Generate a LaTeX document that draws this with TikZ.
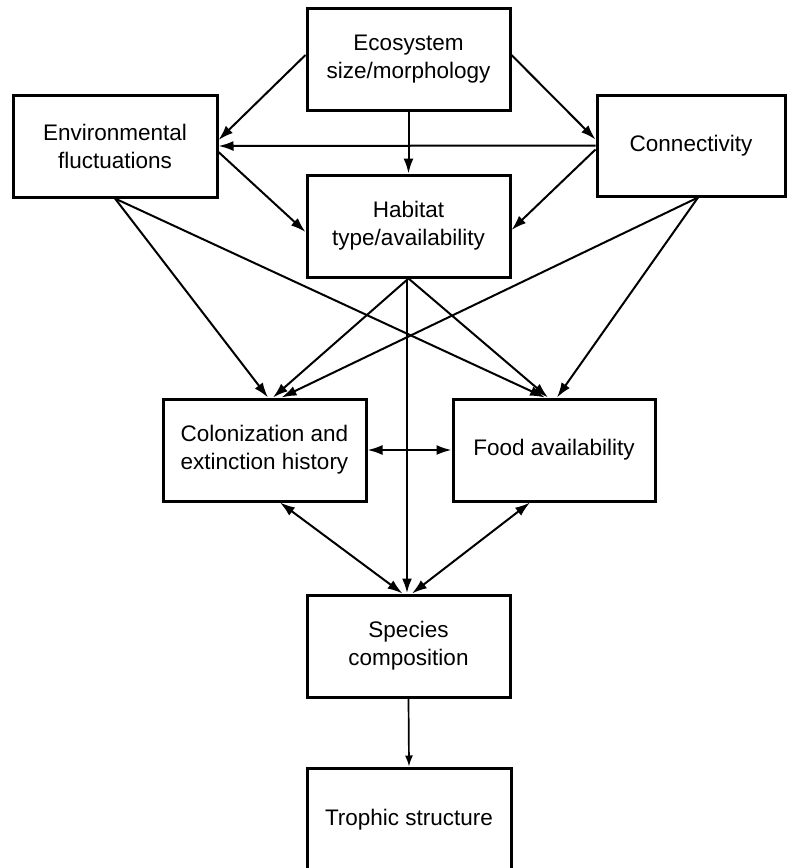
\documentclass[tikz,border=0pt]{standalone}
\usepackage{fontspec}
\setmainfont{Liberation Sans}
\usetikzlibrary{arrows.meta}

\begin{document}
\begin{tikzpicture}[x=1pt, y=-1pt,
  box/.style={draw, line width=3pt, rectangle, align=center, inner sep=0pt,
              font=\fontsize{22.5}{28}\selectfont},
  link/.style={line width=2pt, -{Latex[length=15pt,width=10pt]}},
  twoway/.style={line width=2pt, {Latex[length=15pt,width=10pt]}-{Latex[length=15pt,width=10pt]}},
  trunk/.style={line width=2.8pt, -{Latex[length=15pt,width=10pt]}},
  thin link/.style={line width=1.7pt, -{Latex[length=11pt,width=8pt]}}]

\useasboundingbox (0,0) rectangle (789,868);
\clip (0,0) rectangle (789,868);
\fill[white] (0,0) rectangle (789,868);

% boxes
\node[box, minimum width=203pt, minimum height=102pt] (eco)  at (408.5,59)  {Ecosystem\\size/morphology};
\node[box, minimum width=204pt, minimum height=102pt] (env)  at (115,146)   {Environmental\\fluctuations};
\node[box, minimum width=188pt, minimum height=101pt] (con)  at (691,145.5) {Connectivity};
\node[box, minimum width=203pt, minimum height=102pt] (hab)  at (408.5,226) {Habitat\\type/availability};
\node[box, minimum width=203pt, minimum height=102pt] (col)  at (264.5,450) {Colonization and\\extinction history};
\node[box, minimum width=202pt, minimum height=102pt] (food) at (554,450)   {Food availability};
\node[box, minimum width=203pt, minimum height=102pt] (spe)  at (408.5,646) {Species\\composition};
\node[box, minimum width=204pt, minimum height=104pt] (tro)  at (409,820)   {Trophic structure};

% upper tier
\draw[link] ([yshift=4pt]eco.west) -- ([yshift=6pt]env.east);
\draw[link] ([yshift=4pt]eco.east) -- ([yshift=6pt]con.west);
\draw[link] (eco.south) -- (hab.north);
\draw[link] (con.west) -- (env.east);
\draw[link] ([yshift=-6pt]env.east) -- ([yshift=-6pt]hab.west);
\draw[link] ([yshift=-4pt]con.west) -- ([yshift=-4pt]hab.east);

% into colonization and food
\draw[link] (env.south) -- ([xshift=3.5pt]col.north);
\draw[link] (env.south) -- ([xshift=-9pt]food.north);
\draw[link] (hab.south) -- ([xshift=8.5pt]col.north);
\draw[link] (hab.south) -- ([xshift=-6pt]food.north);
\draw[link] ([xshift=7pt]con.south) -- ([xshift=17pt]col.north);
\draw[link] ([xshift=7pt]con.south) -- ([xshift=3pt]food.north);

% lower tier
\draw[trunk] ([xshift=-1.5pt]hab.south) -- ([xshift=-1.5pt]spe.north);
\draw[twoway] (col.east) -- (food.west);
\draw[twoway] ([xshift=15.5pt]col.south) -- ([xshift=-6pt]spe.north);
\draw[twoway] ([xshift=-24pt]food.south) -- ([xshift=3.5pt]spe.north);
\draw[thin link] (spe.south) -- (tro.north);

\end{tikzpicture}
\end{document}
